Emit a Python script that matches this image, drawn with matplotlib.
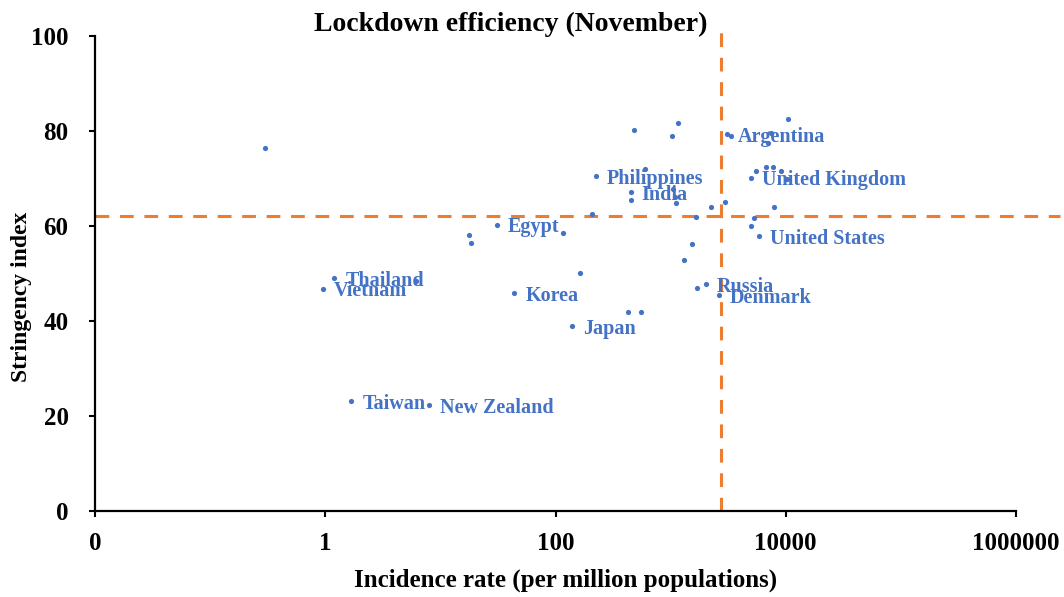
import numpy as np
import matplotlib
matplotlib.use('Agg')
import matplotlib.pyplot as plt

plt.rcParams['font.family'] = ['Liberation Serif', 'DejaVu Serif']
plt.rcParams['font.weight'] = 'bold'

# incidence rate (per million) and stringency index
incidence = [0.30, 1.2, 0.95, 6.2, 1.69, 7.9, 17.7, 18.3, 30.9, 43.7,
             116, 138, 163, 208, 224, 423, 449, 449, 477, 548,
             598, 1027, 1150, 1055, 1090, 1105, 1315, 1531, 1660, 1683,
             2028, 2228, 2630, 2990, 3070, 3360, 4960, 5520, 4990, 5270,
             5900, 6740, 7820, 9050, 7900, 7500, 7000, 10470, 10350]
stringency = [76.5, 49.1, 46.8, 48.5, 23.2, 22.3, 58.1, 56.5, 60.3, 45.9,
              58.6, 39.0, 50.1, 62.6, 70.5, 42.0, 65.5, 67.1, 80.2, 41.8,
              71.9, 78.9, 81.6, 67.7, 66.2, 64.8, 52.8, 56.3, 62.0, 47.0,
              47.7, 63.9, 45.5, 65.1, 79.3, 78.9, 70.2, 71.5, 59.9, 61.6,
              57.8, 72.4, 72.4, 71.5, 64.0, 79.5, 77.5, 82.6, 69.8]
names = ['', 'Thailand', 'Vietnam', '', 'Taiwan', 'New Zealand', '', '', 'Egypt', 'Korea',
         '', 'Japan', '', '', 'Philippines', '', '', 'India', '', '',
         '', '', '', '', '', '', '', '', '', '',
         'Russia', '', 'Denmark', '', 'Argentina', '', 'United Kingdom', '', '', '',
         'United States', '', '', '', '', '', '', '', '']

mean_incidence = 2760
mean_stringency = 62.2

xticks = [0.01, 1, 100, 10000, 1000000]
xtick_labels = ['0', '1', '100', '10000', '1000000']
yticks = [0, 20, 40, 60, 80, 100]

blue = '#4472C4'
orange = '#ED7D31'

fig = plt.figure(figsize=(10.64, 5.97), dpi=100)
ax = fig.add_axes([95/1064, 1-511/597, (1016-95)/1064, (511-36)/597])

ax.scatter(incidence, stringency, s=14, color=blue, zorder=3, linewidths=0)
for xv, yv, nm in zip(incidence, stringency, names):
    if nm:
        ax.annotate(nm, (xv, yv), xytext=(8, -2), textcoords='offset points',
                    ha='left', va='center', color=blue, fontsize=14.5,
                    fontweight='bold')

ax.axhline(mean_stringency, xmin=0, xmax=1.048, color=orange, lw=2.2,
           dashes=(4.5, 3.5), clip_on=False, zorder=2)
ax.axvline(mean_incidence, ymin=0, ymax=1.013, color=orange, lw=2.2,
           dashes=(4.5, 3.5), clip_on=False, zorder=2)

ax.set_xscale('log')
ax.set_xlim(0.01, 1000000)
ax.set_ylim(0, 100)
ax.set_xticks(xticks)
ax.set_xticklabels(xtick_labels)
ax.xaxis.set_minor_locator(matplotlib.ticker.NullLocator())
ax.set_yticks(yticks)
ax.tick_params(axis='both', direction='out', length=4, width=1.5,
               labelsize=18)
ax.tick_params(axis='y', pad=15)
ax.tick_params(axis='x', pad=11)
for s in ['top', 'right']:
    ax.spines[s].set_visible(False)
for s in ['left', 'bottom']:
    ax.spines[s].set_linewidth(1.6)

fig.text(511/1064, 1-24/597, 'Lockdown efficiency (November)', ha='center',
         va='center', fontsize=20, fontweight='bold')
fig.text(566/1064, 1-580/597, 'Incidence rate (per million populations)',
         ha='center', va='center', fontsize=18, fontweight='bold')
fig.text(22/1064, 1-297/597, 'Stringency index', ha='center', va='center',
         rotation=90, fontsize=17, fontweight='bold')

fig.savefig('out.png', dpi=100)
